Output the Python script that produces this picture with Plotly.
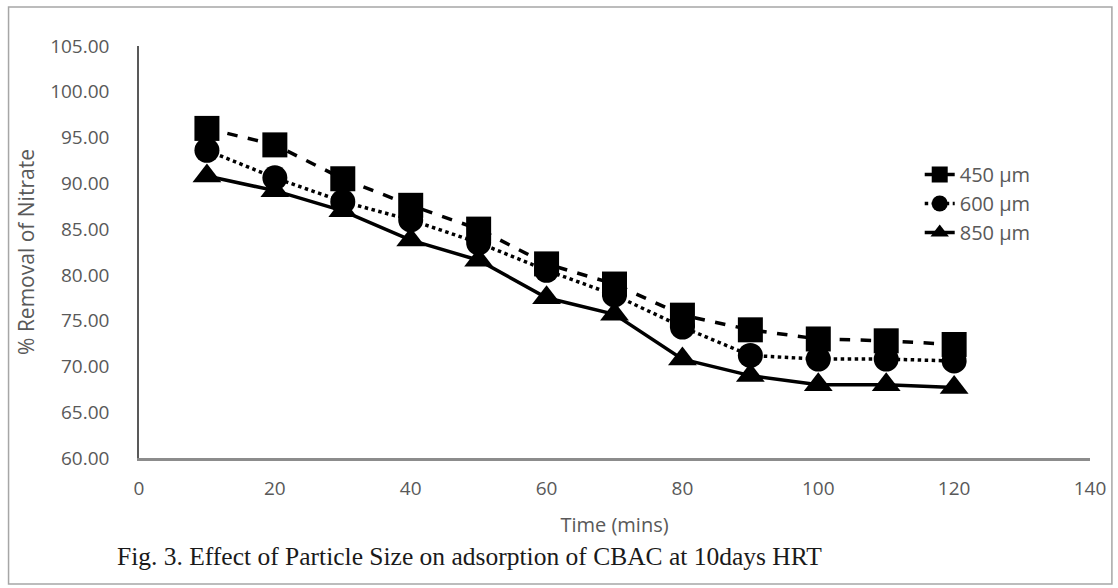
import plotly.graph_objects as go

time_mins = [10, 20, 30, 40, 50, 60, 70, 80, 90, 100, 110, 120]
removal_450 = [96.0, 94.2, 90.5, 87.6, 85.0, 81.2, 79.0, 75.6, 74.0, 73.0, 72.8, 72.4]
removal_600 = [93.6, 90.6, 88.0, 86.0, 83.5, 80.5, 77.8, 74.3, 71.2, 70.8, 70.8, 70.6]
removal_850 = [90.8, 89.2, 87.0, 83.8, 81.6, 77.5, 75.7, 70.8, 69.0, 68.0, 68.0, 67.7]
series_names = ["450 µm", "600 µm", "850 µm"]
y_ticks = [60, 65, 70, 75, 80, 85, 90, 95, 100, 105]
x_ticks = [0, 20, 40, 60, 80, 100, 120, 140]

gray = "#595959"
fig = go.Figure()
styles = [("square", "dash"), ("circle", "dot"), ("triangle-up", "solid")]
for name, vals, (sym, dash) in zip(series_names, [removal_450, removal_600, removal_850], styles):
    fig.add_trace(go.Scatter(
        x=time_mins, y=vals, name=name, mode="lines+markers",
        line=dict(color="black", width=3.5, dash=dash),
        marker=dict(symbol=sym, size=25, color="black"),
        legendgroup=name,
    ))

fig.update_layout(
    width=1118, height=588,
    paper_bgcolor="white", plot_bgcolor="white",
    margin=dict(l=139, r=24, t=46, b=130),
    font=dict(family="Open Sans", size=19, color=gray),
    showlegend=True,
    legend=dict(x=(923 - 139) / 955, y=1 - (155 - 46) / 412, xanchor="left", yanchor="top",
                font=dict(size=20, color=gray), itemwidth=30,
                tracegroupgap=0, traceorder="grouped",
                bgcolor="rgba(0,0,0,0)"),
    xaxis=dict(range=[0, 140], tickvals=x_ticks, showgrid=False, zeroline=False,
               showline=True, linecolor="#8c8c8c", linewidth=2.5, ticks="",
               ticklabelstandoff=11,
               tickfont=dict(size=19, color=gray),
               title=dict(text="Time (mins)", font=dict(size=20, color=gray), standoff=19)),
    yaxis=dict(range=[60, 105], tickvals=y_ticks, tickformat=".2f", showgrid=False,
               zeroline=False, showline=True, linecolor="#595959", linewidth=1.5,
               ticks="", ticklabelstandoff=24, tickfont=dict(size=19, color=gray),
               title=dict(text="% Removal of Nitrate", font=dict(size=21, color=gray), standoff=10)),
    shapes=[dict(type="rect", xref="paper", yref="paper",
                 x0=(8 - 139) / 955, x1=(1116 - 139) / 955,
                 y0=-(584 - 458) / 412, y1=1 + (46 - 7) / 412,
                 line=dict(color="#a6a6a6", width=1.5), fillcolor="rgba(0,0,0,0)", layer="below")],
    annotations=[dict(text="Fig. 3. Effect of Particle Size on adsorption of CBAC at 10days HRT",
                      xref="paper", yref="paper", x=(115 - 139) / 955, y=-(556 - 458) / 412,
                      xanchor="left", yanchor="middle", showarrow=False,
                      font=dict(family="Liberation Serif", size=25.5, color="#1a1a1a"))],
)

fig.write_html("out.html", config={"displayModeBar": False},
               post_script="document.body.style.margin='0';document.body.style.overflow='hidden';")
